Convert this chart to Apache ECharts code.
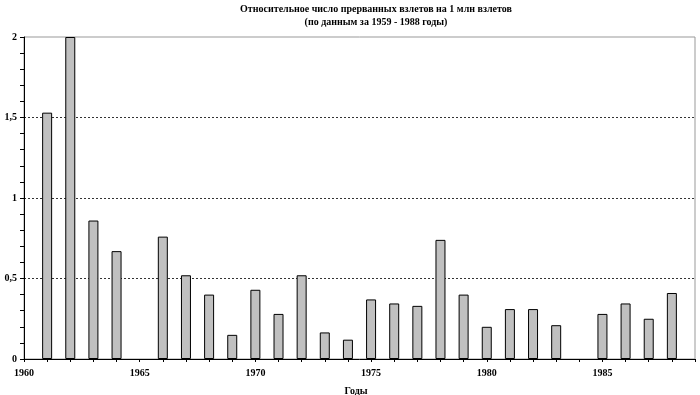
<!DOCTYPE html>
<html><head><meta charset="utf-8">
<script src="https://cdn.jsdelivr.net/npm/echarts@6/dist/echarts.min.js"></script>
<style>html,body{margin:0;padding:0;background:#fff}#c{width:700px;height:395px}</style>
</head><body><div id="c"></div>
<script>
const years = [1961,1962,1963,1964,1966,1967,1968,1969,1970,1971,1972,1973,1974,1975,1976,1977,1978,1979,1980,1981,1982,1983,1985,1986,1987,1988];
const values = [1.53,2.0,0.86,0.67,0.76,0.52,0.40,0.15,0.43,0.28,0.52,0.165,0.12,0.37,0.345,0.33,0.74,0.40,0.20,0.31,0.31,0.21,0.28,0.345,0.25,0.41];
const yTickLabels = {0:'0',0.5:'0,5',1:'1',1.5:'1,5',2:'2'};
const titleText = 'Относительное число прерванных взлетов на 1 млн взлетов';
const subText = '(по данным за 1959 - 1988 годы)';
const xName = 'Годы';

const font = 'Liberation Serif';
const chart = echarts.init(document.getElementById('c'));
chart.setOption({
  animation:false,
  title:{text: titleText + '\n' + subText, left:371, top:-2, textAlign:'center',
    textStyle:{fontFamily:font,fontWeight:'bold',fontSize:10,lineHeight:13,color:'#000'}},
  grid:{left:24,right:5,top:37,bottom:36,show:true,borderColor:'#999',borderWidth:1,backgroundColor:'transparent',
    outerBoundsMode:'none',containLabel:false},
  xAxis:{type:'value',min:1960,max:1989,interval:1,
    name:xName,nameLocation:'middle',nameGap:27,
    nameTextStyle:{fontFamily:font,fontWeight:'bold',fontSize:10,color:'#000',padding:[0,0,0,-7]},
    axisLine:{show:true,lineStyle:{color:'#000',width:1}},
    axisTick:{show:true,length:3,lineStyle:{color:'#000'}},
    axisLabel:{fontFamily:font,fontWeight:'bold',fontSize:10,color:'#000',margin:9,
      formatter:v=> (v%5===0 && v<1989) ? String(v) : ''},
    splitLine:{show:false}},
  yAxis:{type:'value',min:0,max:2,interval:0.5,
    axisLine:{show:true,lineStyle:{color:'#000',width:1}},
    axisTick:{show:true,length:4,lineStyle:{color:'#000'}},
    minorTick:{show:true,splitNumber:5,length:4,lineStyle:{color:'#000'}},
    axisLabel:{fontFamily:font,fontWeight:'bold',fontSize:10,color:'#000',margin:7,
      formatter:v=> yTickLabels[v] !== undefined ? yTickLabels[v] : ''},
    splitLine:{show:true,showMinLine:false,showMaxLine:false,lineStyle:{color:'#333',type:[2,2],width:1}}},
  series:[{type:'bar',data:years.map((y,i)=>[y,values[i]]),barWidth:10,
    itemStyle:{color:'#c0c0c0',borderColor:'#000',borderWidth:1}}]
});
</script></body></html>
